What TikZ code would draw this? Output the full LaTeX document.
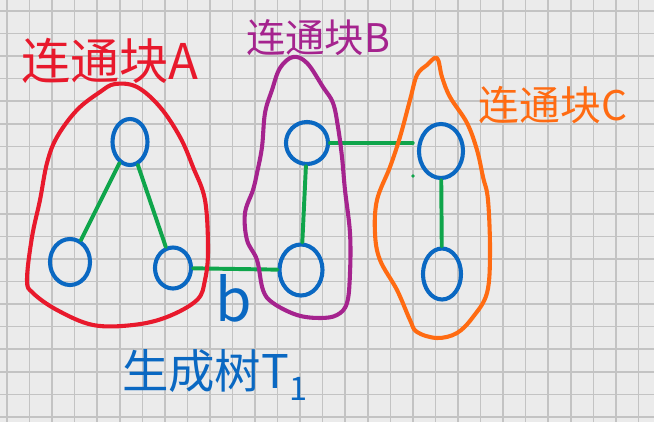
\documentclass[tikz,border=0pt]{standalone}
\usepackage{fontspec}
\newfontfamily\cjk{Noto Sans CJK SC}
\usetikzlibrary{shapes.geometric}
\definecolor{penRed}{HTML}{E8192C}
\definecolor{penPurple}{HTML}{A5238E}
\definecolor{penOrange}{HTML}{FF6B12}
\definecolor{penBlue}{HTML}{0A68C2}
\definecolor{penGreen}{HTML}{0FA54B}
\definecolor{paperBg}{HTML}{EBEBEB}
\definecolor{paperLine}{HTML}{C3C3C3}

\begin{document}
\begin{tikzpicture}[x=0.025cm, y=-0.025cm,
    vtx/.style={ellipse, draw=penBlue, line width=2.9pt, inner sep=0pt},
    link/.style={draw=penGreen, line width=2.8pt, line cap=round},
    blob/.style={line width=2.9pt, line join=round},
    hand/.style={font=\cjk\fontsize{#1}{#1}\selectfont, inner sep=0pt},
    gridline/.style={draw=paperLine, line width=1.1pt},
  ]
    \useasboundingbox (0,0) rectangle (654,422);
    % ─── grid paper ───
    \fill[paperBg] (0,0) rectangle (654,422);
    \foreach \k in {0,...,28}{
      \draw[gridline] ({7+22.55*\k},0) -- ({7+22.55*\k},422);
    }
    \foreach \k in {0,...,18}{
      \draw[gridline] (0,{11+22.55*\k}) -- (654,{11+22.55*\k});
    }

    % ─── vertices ───
    \node[vtx, minimum width=0.875cm, minimum height=1.15cm] (a1) at (130,142) {};
    \node[vtx, minimum width=1.0cm, minimum height=1.15cm] (a2) at (70,262) {};
    \node[vtx, minimum width=0.9cm, minimum height=1.025cm] (a3) at (173,268) {};
    \node[vtx, minimum width=1.05cm, minimum height=1.05cm] (b1) at (307,143) {};
    \node[vtx, minimum width=1.075cm, minimum height=1.275cm] (b2) at (301,270) {};
    \node[vtx, minimum width=1.1cm, minimum height=1.35cm] (c1) at (441,151) {};
    \node[vtx, minimum width=0.95cm, minimum height=1.275cm] (c2) at (442,274) {};

    % ─── tree edges ───
    \draw[link] (a1) -- (a2);
    \draw[link] (a1) -- (a3);
    \draw[link] (a3) -- (b2);
    \draw[link] (b1) -- (b2);
    \draw[link, shorten >=3pt] (b1.east) -- (b1.east -| c1.west);
    \draw[link] (c1) -- (c2);
    \fill[penGreen] (413,176) circle[radius=1.3pt];

    % ─── blocks ───
    \draw[blob, penRed] plot[smooth cycle, tension=0.6] coordinates {
      (115,84) (137,87) (160,107) (180,137) (193,167) (205,200) (208,250)
      (205,280) (197,300) (167,317) (133,325) (93,325) (57,310) (33,293)
      (27,280) (32,237) (40,200) (47,163) (57,137) (77,110) (100,92)};
    \draw[blob, penPurple] plot[smooth cycle, tension=0.6] coordinates {
      (293,57) (307,63) (323,87) (333,103) (338,127) (342,157) (345,190)
      (350,233) (350,273) (347,303) (337,315) (320,318) (297,315) (273,303)
      (263,290) (257,260) (247,240) (245,213) (253,190) (257,173) (262,147)
      (265,113) (272,90) (280,68)};
    \draw[blob, penOrange] plot[smooth cycle, tension=0.6] coordinates {
      (437,58) (442,77) (450,97) (467,123) (477,150) (483,177) (488,200)
      (490,253) (487,293) (473,317) (457,333) (437,338) (417,332) (410,320)
      (397,290) (380,260) (375,233) (377,200) (390,167) (400,137) (410,100)
      (417,75) (427,65)};

    % ─── labels ───
    \node[hand=35, text=penRed] (labA) at (110,61) {连通块A};
    \node[hand=28, text=penPurple] (labB) at (318,38) {连通块B};
    \node[hand=29, text=penOrange] (labC) at (553,105) {连通块C};
    \node[hand=42, text=penBlue] (labb) at (234,298) {b};
    \node[hand=33, text=penBlue] (labT) at (215,375) {生成树T\textsubscript{1}};
\end{tikzpicture}
\end{document}
